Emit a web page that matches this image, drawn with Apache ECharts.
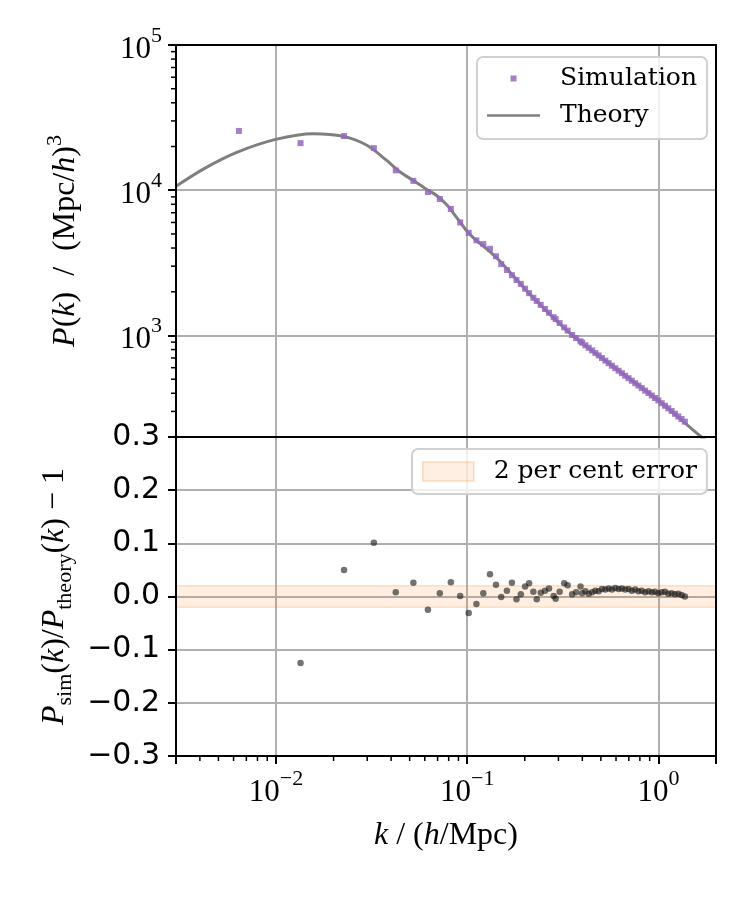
<!DOCTYPE html>
<html>
<head>
<meta charset="utf-8">
<script src="https://cdn.jsdelivr.net/npm/echarts@6/dist/echarts.min.js"></script>
<style>
html,body{margin:0;padding:0;background:#fff;}
#chart{width:747px;height:897px;}
</style>
</head>
<body>
<div id="chart"></div>
<script>
// ---- data ----
const kBins = [0.0064, 0.01344, 0.0227, 0.0325, 0.0423, 0.0523, 0.0623, 0.0719, 0.0821, 0.0919,
  0.1018, 0.1117, 0.1214, 0.1315, 0.1414, 0.1506, 0.1613, 0.1713, 0.1810, 0.1907,
  0.2008, 0.2107, 0.2218, 0.2310, 0.2423, 0.2551, 0.2677, 0.2832, 0.2901, 0.3043,
  0.3215, 0.3350, 0.3539, 0.3713, 0.3914,
  0.399, 0.415, 0.432, 0.450, 0.468, 0.487, 0.507, 0.528, 0.549, 0.571,
  0.595, 0.619, 0.644, 0.670, 0.698, 0.726, 0.756, 0.786, 0.818, 0.852,
  0.887, 0.923, 0.960, 0.999, 1.040, 1.082, 1.126, 1.172, 1.220, 1.270,
  1.321, 1.375];
const simP = [25600, 21100, 23600, 19500, 13700, 11600, 9720, 8700, 7440, 6000,
  5090, 4520, 4260, 3950, 3510, 3100, 2820, 2600, 2410, 2266,
  2100, 1956, 1819, 1729, 1626, 1523, 1434, 1336, 1296, 1218,
  1137, 1081, 1008, 960, 911,
  892, 856, 823, 790, 758, 729, 699, 671, 645, 619,
  595, 572, 550, 528, 508, 488, 469, 452, 434, 417,
  401, 386, 371, 357, 342, 328, 315, 302, 289, 277,
  266, 255];
const residual = [null, -0.125, 0.050, 0.101, 0.008, 0.026, -0.025, 0.006, 0.027, 0.001,
  -0.031, -0.014, 0.006, 0.042, 0.022, -0.001, 0.011, 0.026, -0.005, 0.004,
  0.019, 0.025, 0.009, -0.005, 0.007, 0.011, 0.015, 0.001, -0.004, 0.009,
  0.025, 0.021, 0.004, 0.008, 0.019,
  0.006, 0.010, 0.005, 0.008, 0.011, 0.010, 0.014, 0.013, 0.015, 0.013,
  0.016, 0.014, 0.015, 0.013, 0.014, 0.011, 0.013, 0.010, 0.011, 0.008,
  0.010, 0.008, 0.009, 0.006, 0.008, 0.009, 0.005, 0.006, 0.004, 0.005,
  0.003, 0.000];
const theoryK = [0.003, 0.00421, 0.00628, 0.00996, 0.0157, 0.0225, 0.0299, 0.0378, 0.0444, 0.0521,
  0.0623, 0.0689, 0.0777, 0.0876, 0.0987, 0.1113, 0.1254, 0.1468, 0.219, 0.354,
  0.596, 0.979, 1.648, 2.0];
const theoryP = [10650, 14100, 18300, 22400, 24500, 23500, 20400, 16100, 13400, 11700,
  10000, 9240, 8010, 6560, 5310, 4530, 3980, 3300, 1850, 1007,
  595, 365, 204, 165];
const errBand = [-0.02, 0.02];
const xRange = [0.003, 2];
const yTopRange = [200, 100000];
const yBottomRange = [-0.3, 0.3];
const yBottomStep = 0.1;
const xMinorTicks = [0.004, 0.005, 0.006, 0.007, 0.008, 0.009,
  0.02, 0.03, 0.04, 0.05, 0.06, 0.07, 0.08, 0.09,
  0.2, 0.3, 0.4, 0.5, 0.6, 0.7, 0.8, 0.9];
const yMinorTicks = [300, 400, 500, 600, 700, 800, 900,
  2000, 3000, 4000, 5000, 6000, 7000, 8000, 9000,
  20000, 30000, 40000, 50000, 60000, 70000, 80000, 90000];

// ---- chart ----
const chart = echarts.init(document.getElementById('chart'), null, {renderer: 'canvas'});
const SERIF = 'Liberation Serif';
const gridColor = '#b0b0b0';

function powLabel(v) {
  const l = Math.log10(v);
  const e = Math.round(l);
  if (Math.abs(l - e) > 1e-6) return '';
  return '{b|10}{s|' + String(e).replace('-', '\u2212') + '}';
}
const powRich = {
  b: {fontFamily: SERIF, fontSize: 31, color: '#000', lineHeight: 40, verticalAlign: 'bottom'},
  s: {fontFamily: SERIF, fontSize: 22, color: '#000', lineHeight: 40, verticalAlign: 'top'}
};
const mathRich = {
  i: {fontFamily: SERIF, fontStyle: 'italic', fontSize: 32, color: '#000', lineHeight: 44},
  r: {fontFamily: SERIF, fontSize: 32, color: '#000', lineHeight: 44},
  sup: {fontFamily: SERIF, fontSize: 22, color: '#000', lineHeight: 44, verticalAlign: 'top'},
  sub: {fontFamily: SERIF, fontSize: 22, color: '#000', lineHeight: 44, verticalAlign: 'bottom'}
};

function minorXTick(params, api) {
  const p = api.coord([api.value(0), api.value(1)]);
  return {type: 'line', shape: {x1: p[0], y1: p[1], x2: p[0], y2: p[1] + 5},
    style: {stroke: '#000', lineWidth: 1.5}};
}
function minorYTick(params, api) {
  const p = api.coord([api.value(0), api.value(1)]);
  return {type: 'line', shape: {x1: p[0] - 5, y1: p[1], x2: p[0], y2: p[1]},
    style: {stroke: '#000', lineWidth: 1.5}};
}

const option = {
  animation: false,
  backgroundColor: '#fff',
  grid: [
    {left: 176, top: 45, width: 540, height: 392, show: true, borderColor: '#000', borderWidth: 2, backgroundColor: 'transparent', z: 5},
    {left: 176, top: 437, width: 540, height: 319, show: true, borderColor: '#000', borderWidth: 2, backgroundColor: 'transparent', z: 5}
  ],
  xAxis: [
    {type: 'log', logBase: 10, gridIndex: 0, min: xRange[0], max: xRange[1],
      axisLine: {show: false, onZero: false}, axisTick: {show: false}, axisLabel: {show: false},
      splitLine: {show: true, lineStyle: {color: gridColor, width: 2}}},
    {type: 'log', logBase: 10, gridIndex: 1, min: xRange[0], max: xRange[1],
      axisLine: {show: false, onZero: false},
      axisTick: {show: true, length: 8, lineStyle: {color: '#000', width: 2}},
      axisLabel: {formatter: powLabel, rich: powRich, margin: 12, color: '#000'},
      splitLine: {show: true, lineStyle: {color: gridColor, width: 2}},
      name: '{i|k}{r| / (}{i|h}{r|/Mpc)}', nameLocation: 'middle', nameGap: 58,
      nameTextStyle: {rich: mathRich}}
  ],
  yAxis: [
    {type: 'log', logBase: 10, gridIndex: 0, min: yTopRange[0], max: yTopRange[1],
      axisLine: {show: false, onZero: false},
      axisTick: {show: true, length: 8, lineStyle: {color: '#000', width: 2}},
      axisLabel: {formatter: powLabel, rich: powRich, margin: 14, color: '#000'},
      splitLine: {show: true, lineStyle: {color: gridColor, width: 2}},
      name: '{i|P}{r|(}{i|k}{r|)  /  (Mpc/}{i|h}{r|)}{sup|3}', nameLocation: 'middle', nameGap: 88, nameRotate: 90,
      nameTextStyle: {rich: mathRich}},
    {type: 'value', gridIndex: 1, min: yBottomRange[0], max: yBottomRange[1], interval: yBottomStep,
      axisLine: {show: false, onZero: false},
      axisTick: {show: true, length: 8, lineStyle: {color: '#000', width: 2}},
      axisLabel: {
        formatter: function (v) { return (Math.abs(v) < 1e-9 ? '0.0' : v.toFixed(1)).replace('-', '\u2212'); },
        fontFamily: 'DejaVu Sans', fontSize: 30, color: '#000', margin: 16},
      splitLine: {show: true, lineStyle: {color: gridColor, width: 2}},
      name: '{i|P}{sub|sim}{r|(}{i|k}{r|)/}{i|P}{sub|theory}{r|(}{i|k}{r|) \u2212 1}', nameLocation: 'middle', nameGap: 88, nameRotate: 90,
      nameTextStyle: {rich: mathRich}}
  ],
  legend: [
    {data: [{name: 'Simulation', icon: 'path://M0,0H10V10H0Z'}, {name: 'Theory', icon: 'path://M0,0H100V5H0Z'}],
      orient: 'vertical', left: 477, top: 57, itemWidth: 53, itemHeight: 6, itemGap: 12,
      padding: [9, 10, 11, 10], selectedMode: false,
      textStyle: {fontFamily: 'DejaVu Serif', fontSize: 25, color: '#000', padding: [0, 0, 0, 15]},
      backgroundColor: 'rgba(255,255,255,0.8)', borderColor: '#d0d0d0', borderWidth: 2, borderRadius: 6},
    {data: [{name: '2 per cent error', icon: 'rect',
        itemStyle: {color: 'rgba(255,127,14,0.12)', borderColor: 'rgba(255,127,14,0.25)', borderWidth: 1.5}}],
      orient: 'vertical', left: 412, top: 449, itemWidth: 51, itemHeight: 19, selectedMode: false,
      padding: [10, 10, 10, 10],
      textStyle: {fontFamily: 'DejaVu Serif', fontSize: 25, color: '#000', padding: [0, 0, 0, 15]},
      backgroundColor: 'rgba(255,255,255,0.8)', borderColor: '#d0d0d0', borderWidth: 2, borderRadius: 6}
  ],
  series: [
    {name: 'Theory', type: 'line', xAxisIndex: 0, yAxisIndex: 0,
      data: theoryK.map((k, i) => [k, theoryP[i]]),
      showSymbol: false, symbol: 'none', smooth: 0.3, clip: true,
      lineStyle: {color: '#7f7f7f', width: 3}, itemStyle: {color: '#7f7f7f'}, z: 2},
    {name: 'Simulation', type: 'scatter', xAxisIndex: 0, yAxisIndex: 0,
      data: kBins.map((k, i) => [k, simP[i]]),
      symbol: 'rect', symbolSize: 6, itemStyle: {color: '#9467bd', opacity: 0.85}, z: 3},
    {name: '2 per cent error', type: 'line', xAxisIndex: 1, yAxisIndex: 1, data: [],
      itemStyle: {color: 'rgba(255,127,14,0.12)'}, lineStyle: {width: 0}, symbol: 'none'},
    {name: 'residual', type: 'scatter', xAxisIndex: 1, yAxisIndex: 1,
      data: kBins.map((k, i) => [k, residual[i]]).filter(d => d[1] !== null),
      symbol: 'circle', symbolSize: 6.5, itemStyle: {color: 'rgba(20,20,20,0.75)'}, z: 3,
      markArea: {silent: true, z: 1,
        itemStyle: {color: 'rgba(255,127,14,0.12)', borderColor: 'rgba(255,127,14,0.22)', borderWidth: 1.5},
        data: [[{yAxis: errBand[0]}, {yAxis: errBand[1]}]]}},
    {name: 'xminor', type: 'custom', xAxisIndex: 1, yAxisIndex: 1, silent: true, clip: false,
      renderItem: minorXTick, data: xMinorTicks.map(v => [v, yBottomRange[0]]), z: 6},
    {name: 'yminor', type: 'custom', xAxisIndex: 0, yAxisIndex: 0, silent: true, clip: false,
      renderItem: minorYTick, data: yMinorTicks.map(v => [xRange[0], v]), z: 6}
  ]
};
chart.setOption(option);
</script>
</body>
</html>
